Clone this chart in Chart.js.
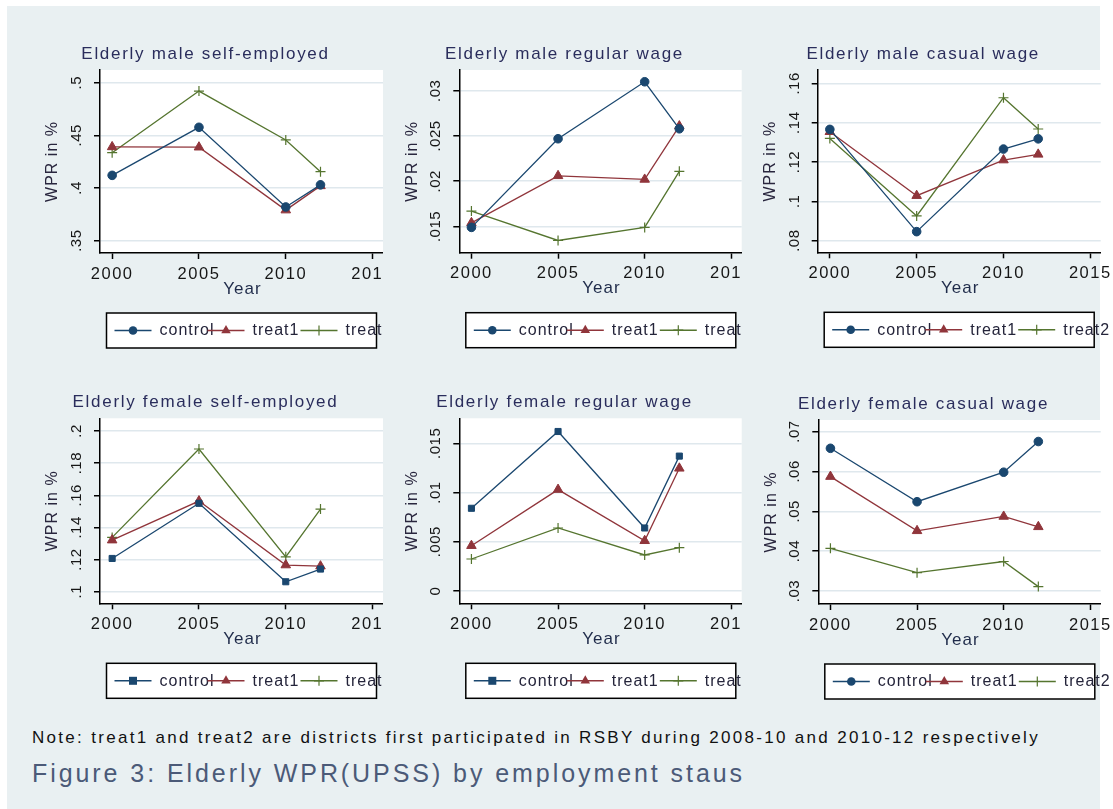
<!DOCTYPE html>
<html>
<head>
<meta charset="utf-8">
<script src="https://cdn.jsdelivr.net/npm/chart.js@4.4.1/dist/chart.umd.min.js"></script>
<style>
  html, body { margin: 0; padding: 0; background: #ffffff; width: 1113px; height: 809px; overflow: hidden; }
  #frame { position: absolute; left: 7px; top: 6px; width: 1093px; height: 803px; background: #e9f0f2; }
  canvas { position: absolute; }
  .note { position: absolute; left: 32px; top: 728px; font: 17px 'Liberation Sans', Arial, sans-serif; color: #111111; white-space: nowrap; }
  .caption { position: absolute; left: 32px; top: 759px; font: 25px 'Liberation Sans', Arial, sans-serif; color: #4b5a78; white-space: nowrap; }
</style>
</head>
<body>
<div id="frame"></div>
<div class="note" id="note">Note: treat1 and treat2 are districts first participated in RSBY during 2008-10 and 2010-12 respectively</div>
<div class="caption" id="caption">Figure 3: Elderly WPR(UPSS) by employment staus</div>
<script>
// ---- survey rounds (x) ----
const years = [2000, 2005, 2010, 2012];
const xTickYears = [2000, 2005, 2010, 2015];
const seriesNames = ['control', 'treat1', 'treat2'];

// ---- Elderly male self-employed ----
const maleSelfControl = [0.412, 0.4576, 0.382, 0.403];
const maleSelfTreat1  = [0.439, 0.4387, 0.379, 0.402];
const maleSelfTreat2  = [0.4335, 0.492, 0.4456, 0.4155];
const maleSelfTicks   = [0.35, 0.40, 0.45, 0.50];

// ---- Elderly male regular wage ----
const maleRegControl = [0.0149, 0.0247, 0.0310, 0.0258];
const maleRegTreat1  = [0.0154, 0.0206, 0.0202, 0.0261];
const maleRegTreat2  = [0.0167, 0.01345, 0.0149, 0.0211];
const maleRegTicks   = [0.015, 0.020, 0.025, 0.030];

// ---- Elderly male casual wage ----
const maleCasControl = [0.1366, 0.0846, 0.1266, 0.1318];
const maleCasTreat1  = [0.1354, 0.1029, 0.1210, 0.1239];
const maleCasTreat2  = [0.1320, 0.0926, 0.1527, 0.1368];
const maleCasTicks   = [0.08, 0.10, 0.12, 0.14, 0.16];

// ---- Elderly female self-employed ----
const femSelfControl = [0.1207, 0.1550, 0.1062, 0.1141];
const femSelfTreat1  = [0.1321, 0.1564, 0.1166, 0.1159];
const femSelfTreat2  = [0.1338, 0.1888, 0.1217, 0.1514];
const femSelfTicks   = [0.10, 0.12, 0.14, 0.16, 0.18, 0.20];

// ---- Elderly female regular wage ----
const femRegControl = [0.0084, 0.0162, 0.0064, 0.0137];
const femRegTreat1  = [0.0046, 0.0103, 0.0051, 0.01246];
const femRegTreat2  = [0.00325, 0.0064, 0.00366, 0.0044];
const femRegTicks   = [0, 0.005, 0.010, 0.015];

// ---- Elderly female casual wage ----
const femCasControl = [0.0658, 0.0524, 0.0598, 0.0675];
const femCasTreat1  = [0.0587, 0.0451, 0.0487, 0.0461];
const femCasTreat2  = [0.0407, 0.0346, 0.0374, 0.0311];
const femCasTicks   = [0.03, 0.04, 0.05, 0.06, 0.07];

const panelTitles = [
  'Elderly male self-employed', 'Elderly male regular wage', 'Elderly male casual wage',
  'Elderly female self-employed', 'Elderly female regular wage', 'Elderly female casual wage'
];

// ---- styling ----
const FONT = "'Liberation Sans', Arial, Helvetica, sans-serif";
const COLORS = ['#1a476f', '#90353b', '#55752f'];
const GRID = '#dfe8ed';

// canvas boxes and plot areas (page pixels)
const colCanvas = [{ x: 10, w: 373 }, { x: 395, w: 347 }, { x: 755, w: 358 }];
const rowCanvas = [{ y: 30, h: 330 }, { y: 380, h: 330 }];
const plotAreas = [
  { l: 100,   t: 70,    r: 383,    b: 253 },
  { l: 459.3, t: 70,    r: 741.7,  b: 252.7 },
  { l: 817.7, t: 70,    r: 1100.7, b: 252.3 },
  { l: 100,   t: 418.3, r: 383,    b: 603.3 },
  { l: 459.3, t: 418.3, r: 741.7,  b: 603.3 },
  { l: 818.3, t: 420,   r: 1100.7, b: 604 }
];
const yRanges = [
  [0.3383, 0.512], [0.0121, 0.0323], [0.0741, 0.1668],
  [0.0928, 0.2079], [-0.00125, 0.01754], [0.02674, 0.0729]
];
const xRange = [1999.3, 2015.6];

const panels = [
  { series: [maleSelfControl, maleSelfTreat1, maleSelfTreat2], ticks: maleSelfTicks, marker: 'circle' },
  { series: [maleRegControl, maleRegTreat1, maleRegTreat2], ticks: maleRegTicks, marker: 'circle' },
  { series: [maleCasControl, maleCasTreat1, maleCasTreat2], ticks: maleCasTicks, marker: 'circle' },
  { series: [femSelfControl, femSelfTreat1, femSelfTreat2], ticks: femSelfTicks, marker: 'rect' },
  { series: [femRegControl, femRegTreat1, femRegTreat2], ticks: femRegTicks, marker: 'rect' },
  { series: [femCasControl, femCasTreat1, femCasTreat2], ticks: femCasTicks, marker: 'circle' }
];

// Stata-style number labels: .45, .025, 0
function stataLabel(v) {
  const s = String(Math.round(v * 100000) / 100000);
  return s.replace(/^0\./, '.').replace(/^-0\./, '-.');
}

function text(ctx, s, x, y, size, color, spacing, align) {
  ctx.save();
  ctx.font = size + 'px ' + FONT;
  ctx.fillStyle = color;
  ctx.letterSpacing = spacing + 'px';
  ctx.textAlign = align || 'center';
  ctx.textBaseline = 'middle';
  ctx.fillText(s, x, y);
  ctx.restore();
}

function marker(ctx, style, x, y, color) {
  ctx.save();
  ctx.fillStyle = color;
  ctx.strokeStyle = color;
  ctx.lineWidth = 1.2;
  ctx.beginPath();
  if (style === 'circle') {
    ctx.arc(x, y, 4.3, 0, Math.PI * 2);
    ctx.fill();
  } else if (style === 'rect') {
    ctx.rect(x - 4, y - 4, 8, 8);
    ctx.fill();
  } else if (style === 'triangle') {
    const r = 5.5;
    ctx.moveTo(x, y - r);
    ctx.lineTo(x + r * Math.sin(2 * Math.PI / 3), y - r * Math.cos(2 * Math.PI / 3));
    ctx.lineTo(x + r * Math.sin(4 * Math.PI / 3), y - r * Math.cos(4 * Math.PI / 3));
    ctx.closePath();
    ctx.fill();
  } else {
    ctx.moveTo(x - 5, y); ctx.lineTo(x + 5, y);
    ctx.moveTo(x, y - 5); ctx.lineTo(x, y + 5);
    ctx.stroke();
  }
  ctx.restore();
}

// Draws plot background, axis labels, titles and the boxed legend
const stataDecor = {
  id: 'stataDecor',
  beforeDraw(chart) {
    const a = chart.chartArea, ctx = chart.ctx;
    ctx.save();
    ctx.fillStyle = '#ffffff';
    ctx.fillRect(a.left, a.top, a.right - a.left, a.bottom - a.top);
    ctx.restore();
  },
  afterDraw(chart) {
    const a = chart.chartArea, ctx = chart.ctx;
    const cfg = chart.options.plugins.stataDecor;
    const xs = chart.scales.x, ys = chart.scales.y;
    const cx = (a.left + a.right) / 2, cy = (a.top + a.bottom) / 2;

    // x tick labels
    xs.ticks.forEach(t => {
      text(ctx, String(t.value), xs.getPixelForValue(t.value), a.bottom + 21, 16.5, '#161616', 1.5);
    });
    // y tick labels (vertical)
    ys.ticks.forEach(t => {
      ctx.save();
      ctx.translate(a.left - 23, ys.getPixelForValue(t.value));
      ctx.rotate(-Math.PI / 2);
      text(ctx, stataLabel(t.value), 0, 0, 15, '#161616', 0.5);
      ctx.restore();
    });
    // axis titles
    text(ctx, 'Year', cx + 1, a.bottom + 36, 17, '#1f2b4a', 1);
    ctx.save();
    ctx.translate(a.left - 47, cy);
    ctx.rotate(-Math.PI / 2);
    text(ctx, 'WPR in %', 0, 0, 16, '#29263e', 1);
    ctx.restore();
    // panel title
    text(ctx, cfg.title, cx - 36, a.top - 15.5, 17, '#2a2d5c', 1.7);

    // legend box
    const bx = a.left + 6.5, by = a.bottom + 60, bw = 270, bh = 35;
    ctx.save();
    ctx.fillStyle = '#ffffff';
    ctx.fillRect(bx, by, bw, bh);
    ctx.restore();
    const styles = [cfg.marker, 'triangle', 'cross'];
    seriesNames.forEach((name, i) => {
      const sx = bx + 8 + i * 93, sy = by + bh / 2;
      ctx.save();
      ctx.strokeStyle = COLORS[i];
      ctx.lineWidth = 1.4;
      ctx.beginPath();
      ctx.moveTo(sx, sy); ctx.lineTo(sx + 37, sy);
      ctx.stroke();
      ctx.restore();
      marker(ctx, styles[i], sx + 18.5, sy, COLORS[i]);
      text(ctx, name, sx + 45, sy + 0.5, 16, '#24243a', 1, 'left');
    });
    ctx.save();
    ctx.strokeStyle = '#000000';
    ctx.lineWidth = 1.5;
    ctx.strokeRect(bx, by, bw, bh);
    ctx.restore();
  }
};

panels.forEach((p, k) => {
  const col = colCanvas[k % 3], row = rowCanvas[Math.floor(k / 3)];
  const area = plotAreas[k];
  const canvas = document.createElement('canvas');
  canvas.width = col.w; canvas.height = row.h;
  canvas.style.left = col.x + 'px';
  canvas.style.top = row.y + 'px';
  canvas.style.width = col.w + 'px';
  canvas.style.height = row.h + 'px';
  document.body.appendChild(canvas);

  const XH = 40;
  const yWidth = area.l - col.x;
  const pad = {
    left: 0,
    top: area.t - row.y,
    right: col.x + col.w - area.r,
    bottom: row.h - (area.b - row.y) - XH
  };
  const pointStyles = [p.marker, 'triangle', 'cross'];
  const radii = [4.3, 5.5, 5];

  new Chart(canvas, {
    type: 'line',
    data: {
      datasets: p.series.map((vals, i) => ({
        label: seriesNames[i],
        data: years.map((yr, j) => ({ x: yr, y: vals[j] })),
        borderColor: COLORS[i],
        backgroundColor: COLORS[i],
        borderWidth: 1.3,
        tension: 0,
        pointStyle: pointStyles[i],
        pointRadius: radii[i],
        pointBorderWidth: i === 2 ? 1.2 : 1,
        pointBackgroundColor: COLORS[i],
        pointBorderColor: COLORS[i],
        clip: false
      }))
    },
    options: {
      responsive: false,
      animation: false,
      events: [],
      layout: { padding: pad, autoPadding: false },
      plugins: {
        legend: { display: false },
        title: { display: false },
        tooltip: { enabled: false },
        stataDecor: { title: panelTitles[k], marker: p.marker }
      },
      scales: {
        x: {
          type: 'linear',
          min: xRange[0], max: xRange[1],
          afterBuildTicks: s => { s.ticks = xTickYears.map(v => ({ value: v })); },
          afterFit: s => { s.height = XH; },
          ticks: { display: false },
          grid: { display: true, drawOnChartArea: false, drawTicks: true, tickLength: 6, tickColor: '#000', tickWidth: 1.5 },
          border: { display: true, color: '#000', width: 1.5 }
        },
        y: {
          type: 'linear',
          min: yRanges[k][0], max: yRanges[k][1],
          afterBuildTicks: s => { s.ticks = p.ticks.map(v => ({ value: v })); },
          afterFit: s => { s.width = yWidth; },
          ticks: { display: false },
          grid: { display: true, color: GRID, lineWidth: 1.5, drawTicks: true, tickLength: 6, tickColor: '#000', tickWidth: 1.5 },
          border: { display: true, color: '#000', width: 1.5 }
        }
      }
    },
    plugins: [stataDecor]
  });
});

// stretch note and caption lines to their printed widths
function fitWidth(id, target) {
  const el = document.getElementById(id);
  const n = el.textContent.length;
  const w = el.getBoundingClientRect().width;
  el.style.letterSpacing = ((target - w) / n) + 'px';
}
fitWidth('note', 1008);
fitWidth('caption', 713);
</script>
</body>
</html>
